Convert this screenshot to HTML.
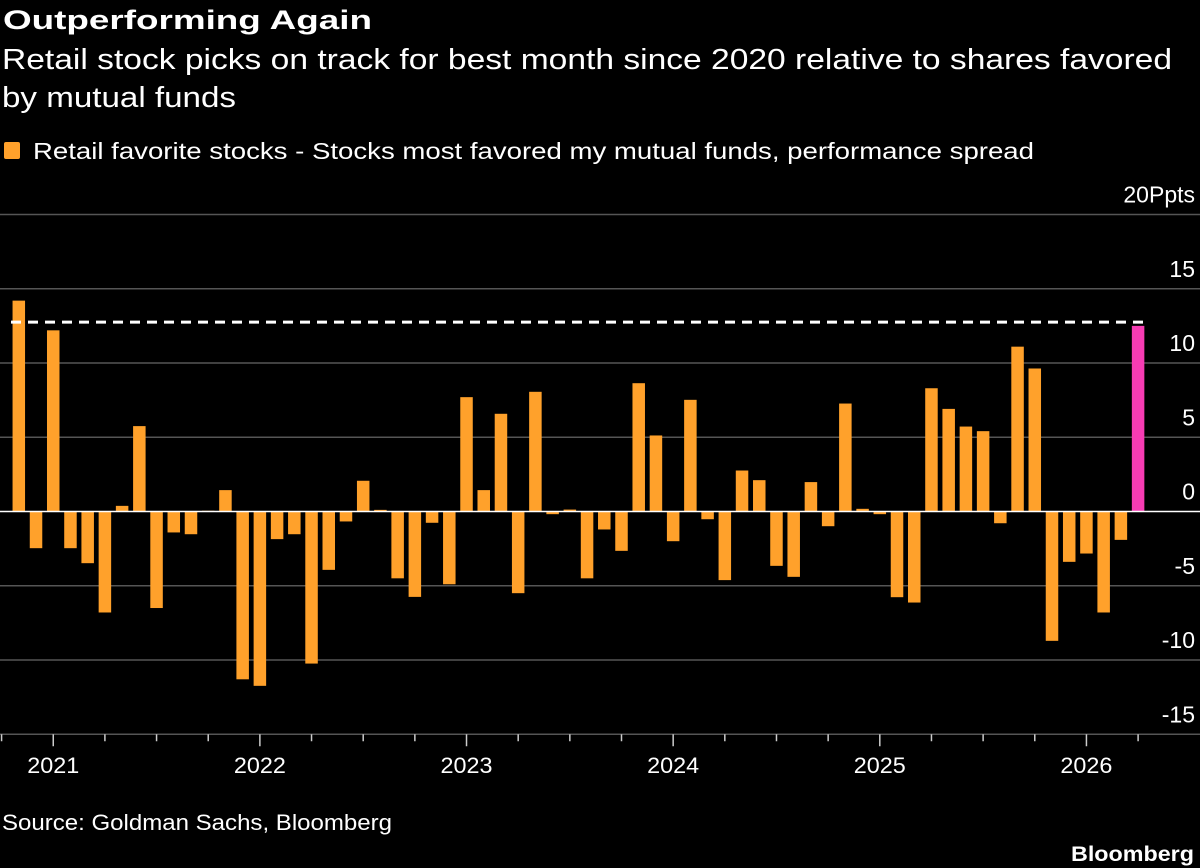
<!DOCTYPE html>
<html><head><meta charset="utf-8"><style>
html,body{margin:0;padding:0;background:#000;}
svg{display:block;font-family:"Liberation Sans",sans-serif;}
</style></head><body>
<svg id="chart" width="1200" height="868" viewBox="0 0 1200 868" xmlns="http://www.w3.org/2000/svg">
<rect width="1200" height="868" fill="#000"/>
<text x="3" y="29" fill="#fff" font-size="27" font-weight="bold" textLength="369" lengthAdjust="spacingAndGlyphs">Outperforming Again</text>
<text x="2" y="69" fill="#fff" font-size="29" textLength="1170" lengthAdjust="spacingAndGlyphs">Retail stock picks on track for best month since 2020 relative to shares favored</text>
<text x="2" y="107" fill="#fff" font-size="29" textLength="234" lengthAdjust="spacingAndGlyphs">by mutual funds</text>
<g>
<rect x="4" y="142" width="16" height="17" rx="2" fill="#ffa12b"/>
<text x="33" y="159" fill="#fff" font-size="23" textLength="1001" lengthAdjust="spacingAndGlyphs">Retail favorite stocks - Stocks most favored my mutual funds, performance spread</text>
</g>
<g id="grid"></g>
<g id="bars"></g>
<g id="xaxis"></g>
<text x="2" y="830" fill="#fff" font-size="22" textLength="390" lengthAdjust="spacingAndGlyphs">Source: Goldman Sachs, Bloomberg</text>
<text x="1194" y="861" fill="#fff" font-size="21" font-weight="bold" text-anchor="end" textLength="123" lengthAdjust="spacingAndGlyphs">Bloomberg</text>
</svg>
<script>
const values = [14.2,-2.47,12.2,-2.47,-3.48,-6.8,0.38,5.75,-6.5,-1.41,-1.53,0.05,1.44,-11.3,-11.74,-1.86,-1.53,-10.24,-3.93,-0.67,2.07,0.11,-4.5,-5.75,-0.76,-4.9,7.7,1.44,6.58,-5.5,8.06,-0.18,0.13,-4.5,-1.21,-2.65,8.64,5.12,-2.0,7.52,-0.52,-4.62,2.76,2.11,-3.66,-4.4,1.98,-0.99,7.27,0.18,-0.18,-5.77,-6.13,8.3,6.91,5.72,5.41,-0.79,11.1,9.63,-8.71,-3.39,-2.83,-6.8,-1.91,12.5];
const yTicks = [20,15,10,5,0,-5,-10,-15];
const yTickLabels = ["20Ppts","15","10","5","0","-5","-10","-15"];
const yearLabels = ["2021","2022","2023","2024","2025","2026"];
const yearStartIndex = [2,14,26,38,50,62];
const referenceLevel = 12.75;

const NS="http://www.w3.org/2000/svg";
const y = v => 511.5 - v*14.85;
const x = i => 18.8 + 17.22*i;
const BW = 12.5;
function mk(tag, attrs, parent){const e=document.createElementNS(NS,tag);for(const k in attrs)e.setAttribute(k,attrs[k]);parent.appendChild(e);return e;}
const grid=document.getElementById('grid'), bars=document.getElementById('bars'), xa=document.getElementById('xaxis');

yTicks.forEach((t,k)=>{
  if(t!==0){
    const l=mk('line',{x1:0,x2:1200,y1:y(t),y2:y(t),stroke:'#555','stroke-width':1.5},grid);
    
    
  }
  const tx=mk('text',{x:1195,y:y(t)-12,fill:'#fff','font-size':23,'text-anchor':'end'},grid);
  tx.textContent=yTickLabels[k];
  
  
});

values.forEach((v,i)=>{
  const last=i===values.length-1;
  const r=mk('rect',{x:x(i)-BW/2,y:Math.min(y(v),y(0)),width:BW,height:Math.abs(y(v)-y(0)),fill:last?'#f73cb4':'#ffa12b'},bars);
  
  
});

const zl=mk('line',{x1:0,x2:1200,y1:y(0),y2:y(0),stroke:'#fff','stroke-width':1.5},bars);



const rl=mk('line',{x1:11,x2:1148,y1:y(referenceLevel),y2:y(referenceLevel),stroke:'#fff','stroke-width':3,'stroke-dasharray':'10 7'},bars);



for(let i=-1;i<values.length+1;i+=3){
  const px=x(i);
  const isYear=yearStartIndex.indexOf(i)>=0;
  if(px<0||px>1200) continue;
  const t=mk('line',{x1:px,x2:px,y1:y(-15),y2:y(-15)+(isYear?12:7),stroke:'#ccc','stroke-width':1.5},xa);
  
  
}
yearLabels.forEach((lab,k)=>{
  const px=x(yearStartIndex[k]);
  const t=mk('text',{x:px,y:773,fill:'#fff','font-size':22,'text-anchor':'middle',textLength:52,lengthAdjust:'spacingAndGlyphs'},xa);
  t.textContent=lab;
  
  
});
</script>
</body></html>
